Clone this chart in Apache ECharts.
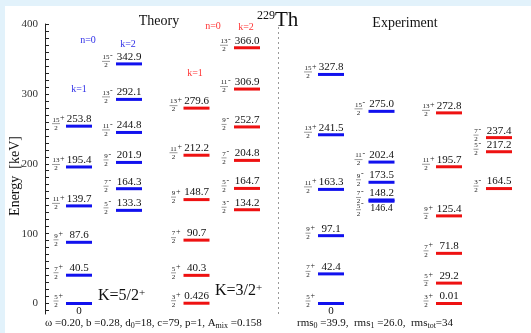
<!DOCTYPE html>
<html>
<head>
<meta charset="utf-8">
<script src="https://cdn.jsdelivr.net/npm/echarts@6/dist/echarts.min.js"></script>
<style>
html,body{margin:0;padding:0;background:#fff;}
#main{width:531px;height:333px;background:#fff;box-shadow:inset 5px 6px 0 #e2f2fb;}
</style>
</head>
<body>
<div id="main"></div>
<script>
var serif = '"Liberation Serif", "DejaVu Serif", serif';
var blue = '#1111ee', red = '#ee1111';

// level energies, keV
var thK52Pos = [0, 40.5, 87.6, 139.7, 195.4, 253.8];
var thK52Neg = [133.3, 164.3, 201.9, 244.8, 292.1, 342.9];
var thK32Pos = [0.426, 40.3, 90.7, 148.7, 212.2, 279.6];
var thK32Neg = [134.2, 164.7, 204.8, 252.7, 306.9, 366.0];
var expK52Pos = [0, 42.4, 97.1, 163.3, 241.5, 327.8];
var expK52Neg = [146.4, 148.2, 173.5, 202.4, 275.0];
var expK32Pos = [0.01, 29.2, 71.8, 125.4, 195.7, 272.8];
var expK32Neg = [164.5, 217.2, 237.4];

// spins (numerator of I = n/2)
var spinK52 = [5, 7, 9, 11, 13, 15];
var spinK32 = [3, 5, 7, 9, 11, 13];
var spinExpK52Neg = [5, 7, 9, 11, 15];
var spinExpK32Neg = [3, 5, 7];

// column slots on the hidden x axis
var colPos = [34, 84, 151.5, 202, 286, 336.5, 404, 454];
var colColor = [blue, blue, red, red, blue, blue, red, red];
var halfW = 13;
var yLabels = [0, 100, 200, 300, 400];

var columns = [
  [thK52Pos, spinK52, 1],
  [thK52Neg, spinK52, -1],
  [thK32Pos, spinK32, 1],
  [thK32Neg, spinK32, -1],
  [expK52Pos, spinK52, 1],
  [expK52Neg, spinExpK52Neg, -1],
  [expK32Pos, spinK32, 1],
  [expK32Neg, spinExpK32Neg, -1]
];

var levels = [];
columns.forEach(function (col, ci) {
  var en = col[0];
  en.forEach(function (e, i) {
    var mode = 0;
    if (e === 0) mode = 1;
    if (i + 1 < en.length && en[i + 1] - e < 5) mode = 2;
    levels.push([colPos[ci], e, col[1][i], col[2], ci, mode]);
  });
});

var tickVals = [];
for (var t = -10; t <= 400; t += 10) tickVals.push(t);

function fmt(v) {
  if (v === 0) return '0';
  if (Math.abs(v * 10 - Math.round(v * 10)) < 1e-6) return v.toFixed(1);
  return String(v);
}

function renderLevel(params, api) {
  var x = api.value(0), e = api.value(1), spin = api.value(2), par = api.value(3);
  var ci = api.value(4), mode = api.value(5);
  var c = api.coord([x, e]);
  var a = api.coord([x - halfW, e]);
  var b = api.coord([x + halfW, e]);
  var y = c[1];
  var below = mode > 0;
  var fy = mode === 2 ? y + 11 : y;
  var nw = spin >= 10 ? 7 : 4;
  var xc = a[0] - 10;
  return {
    type: 'group',
    children: [
      { type: 'rect', shape: { x: a[0], y: y - 1.5, width: b[0] - a[0], height: 3 }, style: { fill: colColor[ci] } },
      { type: 'text', style: { text: fmt(e), x: c[0], y: below ? y + 2 : y - 1.5, align: 'center',
          verticalAlign: below ? 'top' : 'bottom', font: (mode === 2 ? '10px ' : '11px ') + serif, fill: '#111' } },
      { type: 'text', style: { text: String(spin), x: xc, y: fy - 6.5, align: 'center', verticalAlign: 'middle',
          font: '7px ' + serif, fill: '#222' } },
      { type: 'line', shape: { x1: xc - nw / 2 - 0.5, y1: fy - 2.5, x2: xc + nw / 2 + 0.5, y2: fy - 2.5 },
        style: { stroke: '#555', lineWidth: 0.6 } },
      { type: 'text', style: { text: '2', x: xc, y: fy + 1.5, align: 'center', verticalAlign: 'middle',
          font: '7px ' + serif, fill: '#222' } },
      { type: 'text', style: { text: par > 0 ? '+' : '-', x: xc + nw / 2 + 0.5, y: fy - 8, align: 'left',
          verticalAlign: 'middle', font: '8px ' + serif, fill: '#222' } }
    ]
  };
}

var chart = echarts.init(document.getElementById('main'));
chart.setOption({
  animation: false,
  grid: { left: 45, right: 0, top: 24, bottom: 19, containLabel: false, outerBoundsMode: 'none' },
  xAxis: { type: 'value', min: 0, max: 486, show: false },
  yAxis: {
    type: 'value', min: -15, max: 400,
    name: 'Energy  [keV]', nameLocation: 'middle', nameGap: 23, nameMoveOverlap: false,
    nameTextStyle: { fontFamily: serif, fontSize: 14, color: '#111', padding: [0, 14, 0, 0] },
    axisLine: { show: true, lineStyle: { color: '#222', width: 1 } },
    splitLine: { show: false },
    axisTick: { show: true, inside: true, length: 4, customValues: tickVals, lineStyle: { color: '#222' } },
    axisLabel: { customValues: yLabels, fontFamily: serif, fontSize: 11, color: '#333', margin: 7 }
  },
  graphic: [
    { type: 'text', style: { text: 'Theory', x: 159, y: 21, align: 'center', verticalAlign: 'middle', font: '14px ' + serif, fill: '#111' } },
    { type: 'text', style: { text: 'Experiment', x: 405, y: 23, align: 'center', verticalAlign: 'middle', font: '14px ' + serif, fill: '#111' } },
    { type: 'text', style: { text: '{s|229}{t|Th}', x: 257, y: 10, align: 'left', verticalAlign: 'top',
        rich: { s: { fontSize: 12, lineHeight: 12, fontFamily: serif, verticalAlign: 'top', fill: '#111' },
                t: { fontSize: 21, lineHeight: 22, fontFamily: serif, verticalAlign: 'top', fill: '#111' } } } },
    { type: 'text', style: { text: 'n=0', x: 88, y: 40, align: 'center', verticalAlign: 'middle', font: '10px ' + serif, fill: '#3030e8' } },
    { type: 'text', style: { text: 'k=2', x: 128, y: 44, align: 'center', verticalAlign: 'middle', font: '10px ' + serif, fill: '#3030e8' } },
    { type: 'text', style: { text: 'k=1', x: 79, y: 89, align: 'center', verticalAlign: 'middle', font: '10px ' + serif, fill: '#3030e8' } },
    { type: 'text', style: { text: 'n=0', x: 213, y: 26, align: 'center', verticalAlign: 'middle', font: '10px ' + serif, fill: '#ff3434' } },
    { type: 'text', style: { text: 'k=2', x: 246, y: 27, align: 'center', verticalAlign: 'middle', font: '10px ' + serif, fill: '#ff3434' } },
    { type: 'text', style: { text: 'k=1', x: 195, y: 73, align: 'center', verticalAlign: 'middle', font: '10px ' + serif, fill: '#ff3434' } },
    { type: 'text', style: { text: '{t|K=5/2}{s|+}', x: 98, y: 288, align: 'left', verticalAlign: 'top',
        rich: { t: { fontSize: 16, lineHeight: 17, fontFamily: serif, verticalAlign: 'top', fill: '#111' },
                s: { fontSize: 11, lineHeight: 10, fontFamily: serif, verticalAlign: 'top', fill: '#111' } } } },
    { type: 'text', style: { text: '{t|K=3/2}{s|+}', x: 215, y: 283, align: 'left', verticalAlign: 'top',
        rich: { t: { fontSize: 16, lineHeight: 17, fontFamily: serif, verticalAlign: 'top', fill: '#111' },
                s: { fontSize: 11, lineHeight: 10, fontFamily: serif, verticalAlign: 'top', fill: '#111' } } } },
    { type: 'text', style: { text: '{t|ω =0.20, b =0.28, d}{s|0}{t|=18, c=79, p=1, A}{s|mix}{t| =0.158}',
        x: 45, y: 318, align: 'left', verticalAlign: 'top',
        rich: { t: { fontSize: 11, lineHeight: 12, fontFamily: serif, verticalAlign: 'top', fill: '#111' },
                s: { fontSize: 8, lineHeight: 8, padding: [6, 0, 0, 0], fontFamily: serif, verticalAlign: 'bottom', fill: '#111' } } } },
    { type: 'text', style: { text: '{t|rms}{s|0}{t| =39.9,  rms}{s|1}{t| =26.0,  rms}{s|tot}{t|=34}',
        x: 297, y: 318, align: 'left', verticalAlign: 'top',
        rich: { t: { fontSize: 11, lineHeight: 12, fontFamily: serif, verticalAlign: 'top', fill: '#111' },
                s: { fontSize: 8, lineHeight: 8, padding: [6, 0, 0, 0], fontFamily: serif, verticalAlign: 'bottom', fill: '#111' } } } }
  ],
  series: [{
    type: 'custom',
    renderItem: renderLevel,
    encode: { x: 0, y: 1 },
    data: levels,
    markLine: {
      silent: true, symbol: 'none', label: { show: false },
      lineStyle: { type: [2, 3], color: '#999', width: 1 },
      data: [{ xAxis: 233 }]
    }
  }]
});
</script>
</body>
</html>
